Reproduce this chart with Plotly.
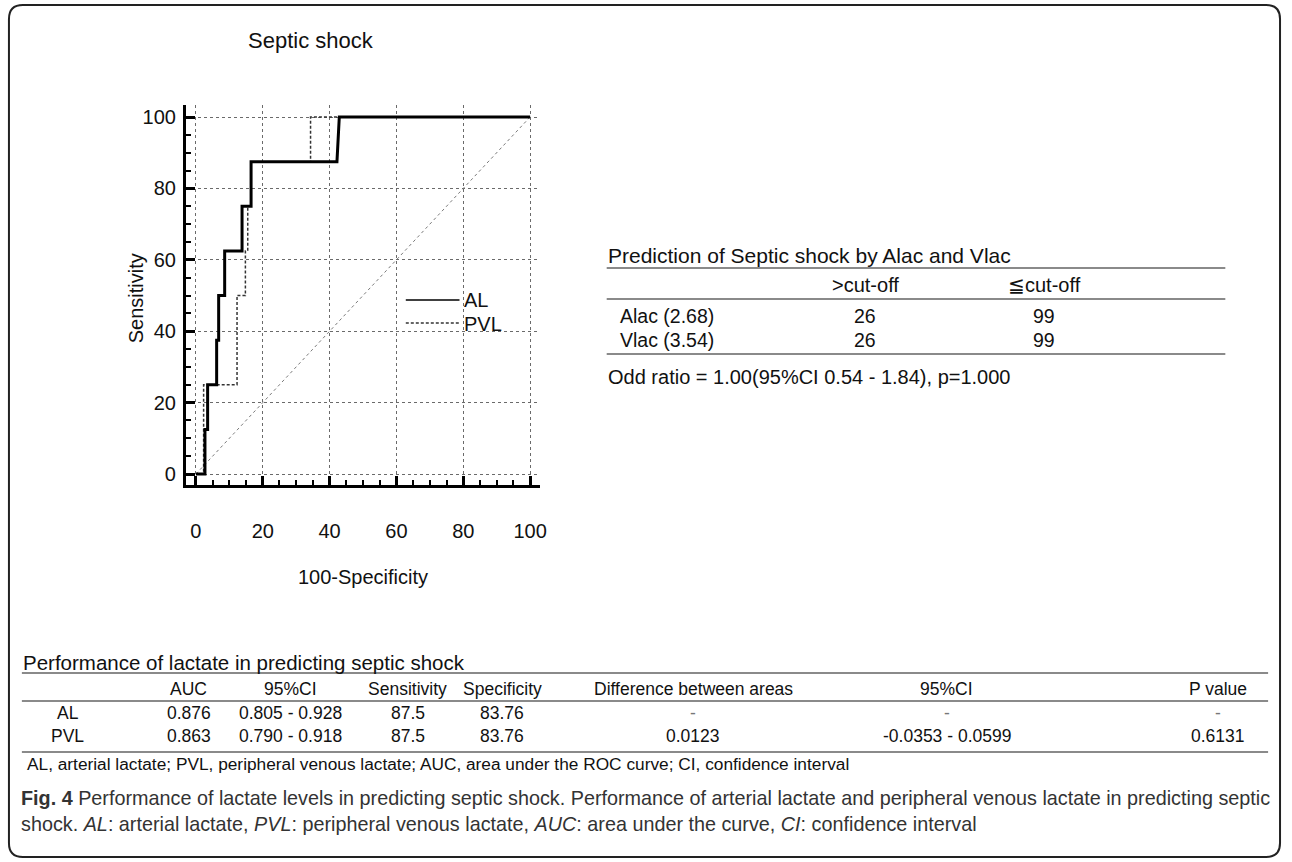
import plotly.graph_objects as go

W, H = 1292, 862

# ---------------- data ----------------
al_x = [0, 2.7, 2.7, 3.5, 3.5, 6.2, 6.2, 6.8, 6.8, 8.6, 8.6, 13.8, 13.8, 16.5, 16.5, 42.2, 42.9, 100]
al_y = [0, 0, 12.5, 12.5, 25, 25, 37.5, 37.5, 50, 50, 62.5, 62.5, 75, 75, 87.5, 87.5, 100, 100]

pvl_x = [0, 2.3, 2.3, 12.3, 12.3, 14.8, 14.8, 15.5, 15.5, 16.5, 16.5, 34.3, 34.3, 100]
pvl_y = [0, 0, 25, 25, 50, 50, 62.5, 62.5, 75, 75, 87.5, 87.5, 100, 100]

diag_x = [0, 100]
diag_y = [0, 100]

tick_vals = [0, 20, 40, 60, 80, 100]

pred_title = "Prediction of Septic shock by Alac and Vlac"
pred_cols = [">cut-off", "≦cut-off"]
pred_rows = ["Alac (2.68)", "Vlac (3.54)"]
pred_vals = [["26", "99"], ["26", "99"]]
pred_note = "Odd ratio = 1.00(95%CI 0.54 - 1.84), p=1.000"

perf_title = "Performance of lactate in predicting septic shock"
perf_cols = ["AUC", "95%CI", "Sensitivity", "Specificity", "Difference between areas", "95%CI", "P value"]
perf_rows = ["AL", "PVL"]
perf_vals = [
    ["0.876", "0.805 - 0.928", "87.5", "83.76", "-", "-", "-"],
    ["0.863", "0.790 - 0.918", "87.5", "83.76", "0.0123", "-0.0353 - 0.0599", "0.6131"],
]
perf_note = "AL, arterial lactate; PVL, peripheral venous lactate; AUC, area under the ROC curve; CI, confidence interval"

caption1 = ("<b>Fig. 4</b> Performance of lactate levels in predicting septic shock. Performance of arterial "
            "lactate and peripheral venous lactate in predicting septic")
caption2 = ("shock. <i>AL</i>: arterial lactate, <i>PVL</i>: peripheral venous lactate, <i>AUC</i>: area under "
            "the curve, <i>CI</i>: confidence interval")

# ---------------- helpers ----------------
FONT = "Liberation Sans, Arial, sans-serif"
NARROW = "Liberation Sans Narrow, Liberation Sans, Arial, sans-serif"


def px(x):
    return x / W


def py(y):
    return 1 - y / H


annotations = []
shapes = []


def text(s, x, y, size=18, anchor="left", family=FONT, color="#111", angle=0):
    annotations.append(dict(text=s, x=px(x), y=py(y), xref="paper", yref="paper",
                            xanchor=anchor, yanchor="middle", showarrow=False, borderpad=0,
                            textangle=angle, font=dict(family=family, size=size, color=color)))


def hline(x0, x1, y, color="#8a8a8a", width=2, dash=None):
    line = dict(color=color, width=width)
    if dash:
        line["dash"] = dash
    shapes.append(dict(type="line", xref="paper", yref="paper", x0=px(x0), x1=px(x1),
                       y0=py(y), y1=py(y), line=line))


# ---------------- figure ----------------
fig = go.Figure()
fig.add_trace(go.Scatter(x=diag_x, y=diag_y, mode="lines", line=dict(color="#7a7a7a", width=1, dash="dot"),
                         showlegend=False, hoverinfo="skip"))
fig.add_trace(go.Scatter(x=pvl_x, y=pvl_y, mode="lines", name="PVL",
                         line=dict(color="#333", width=1.5, dash="3px,2px"), showlegend=False))
fig.add_trace(go.Scatter(x=al_x, y=al_y, mode="lines", name="AL",
                         line=dict(color="#000", width=3), showlegend=False))

# plot area in pixels
x_lo, x_hi = -3, 103
y_lo, y_hi = -3, 103.5
X0, X100 = 197, 533
Y0, Y100 = 474, 117
sx = (X100 - X0) / 100
sy = (Y0 - Y100) / 100
left_px = X0 + x_lo * sx
right_px = X0 + x_hi * sx
bot_px = Y0 - y_lo * sy
top_px = Y0 - y_hi * sy

axis_common = dict(
    showline=True, linecolor="#000", linewidth=3,
    showgrid=True, gridcolor="#6a6a6a", gridwidth=1, griddash="dot",
    zeroline=False,
    tickmode="array", tickvals=tick_vals,
    ticks="inside", ticklen=9, tickwidth=3, tickcolor="#000",
    minor=dict(ticks="inside", dtick=5, tick0=0, ticklen=5, tickwidth=1.5, tickcolor="#000", showgrid=False),
    tickfont=dict(family=FONT, size=20, color="#111"),
    fixedrange=True,
)

fig.update_xaxes(range=[x_lo, x_hi], domain=[px(left_px), px(right_px)], anchor="y",
                 ticklabelstandoff=26, **axis_common)
fig.update_yaxes(range=[y_lo, y_hi], domain=[py(bot_px), py(top_px)], anchor="x",
                 ticklabelstandoff=3, **axis_common)

# title and axis titles
text("Septic shock", 313, 40, size=22, anchor="center")
text("Sensitivity", 137, 298, size=20, anchor="center", angle=-90)
text("100-Specificity", 365, 577, size=20, anchor="center")

# legend
shapes.append(dict(type="line", xref="paper", yref="paper", x0=px(408), x1=px(462), y0=py(300), y1=py(300),
                   line=dict(color="#000", width=1.5)))
shapes.append(dict(type="line", xref="paper", yref="paper", x0=px(408), x1=px(462), y0=py(323), y1=py(323),
                   line=dict(color="#333", width=1.5, dash="3px,2px")))
text("AL", 466, 300, size=20)
text("PVL", 466, 324, size=20)

# prediction table (right)
text(pred_title, 610, 255, size=21)
hline(610, 1232, 268)
c_pos = [870, 1050]
for s, cx in zip(pred_cols, c_pos):
    text(s, cx, 285, size=20, anchor="center")
hline(610, 1232, 299)
for r, (lab, vals) in enumerate(zip(pred_rows, pred_vals)):
    yy = 316 + r * 24
    text(lab, 622, yy, size=19.5)
    for v, cx in zip(vals, c_pos):
        text(v, cx, yy, size=19.5, anchor="center")
hline(610, 1232, 354)
text(pred_note, 610, 377, size=20)

# performance table (bottom)
text(perf_title, 22, 662, size=20.5)
hline(22, 1275, 673)
col_x = [190, 292, 410, 505, 697, 952, 1225]
for s, cx in zip(perf_cols, col_x):
    text(s, cx, 689, size=17.5, anchor="center")
hline(22, 1275, 701)
for r, (lab, vals) in enumerate(zip(perf_rows, perf_vals)):
    yy = 713 + r * 23
    text(lab, 68, yy, size=17.5, anchor="center")
    for v, cx in zip(vals, col_x):
        text(v, cx, yy, size=17.5, anchor="center", color="#111" if v != "-" else "#777")
hline(22, 1275, 752)
text(perf_note, 26, 764, size=17.3)

# caption
text(caption1, 20, 798, size=19.8, family=NARROW, color="#333")
text(caption2, 20, 824, size=19.8, family=NARROW, color="#333")

# outer rounded frame
x0f, y0f, x1f, y1f, rr = 9, 5, 1287, 857, 14
path = (f"M {px(x0f + rr)} {py(y0f)} L {px(x1f - rr)} {py(y0f)} "
        f"Q {px(x1f)} {py(y0f)} {px(x1f)} {py(y0f + rr)} "
        f"L {px(x1f)} {py(y1f - rr)} Q {px(x1f)} {py(y1f)} {px(x1f - rr)} {py(y1f)} "
        f"L {px(x0f + rr)} {py(y1f)} Q {px(x0f)} {py(y1f)} {px(x0f)} {py(y1f - rr)} "
        f"L {px(x0f)} {py(y0f + rr)} Q {px(x0f)} {py(y0f)} {px(x0f + rr)} {py(y0f)} Z")
shapes.append(dict(type="path", xref="paper", yref="paper", path=path, line=dict(color="#222", width=2)))

fig.update_layout(
    width=W, height=H, margin=dict(l=0, r=0, t=0, b=0),
    paper_bgcolor="white", plot_bgcolor="white",
    showlegend=False, annotations=annotations, shapes=shapes,
    font=dict(family=FONT),
)

fig.write_html("out.html")
